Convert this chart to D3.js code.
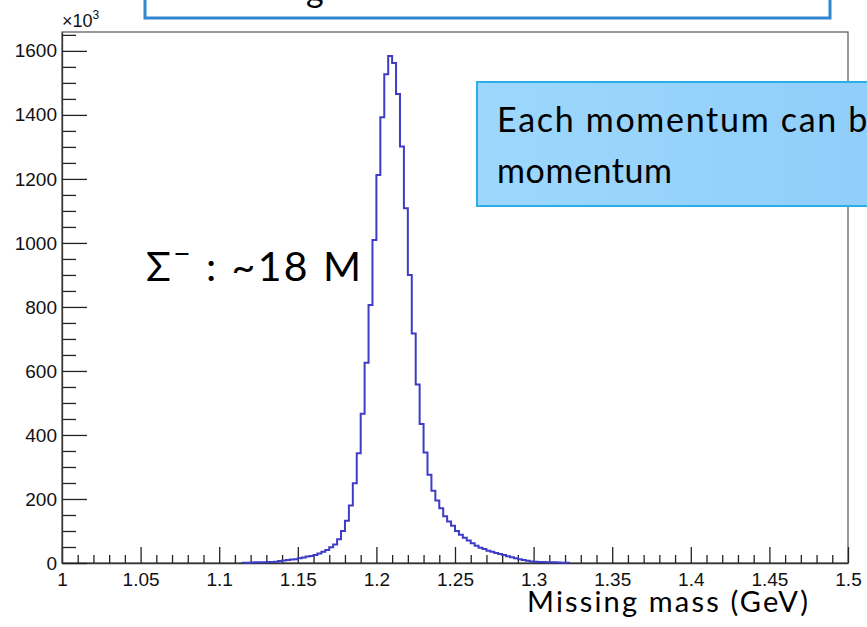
<!DOCTYPE html>
<html>
<head>
<meta charset="utf-8">
<script src="https://cdn.jsdelivr.net/npm/d3@7"></script>
<style>
  body { margin: 0; background: #fff; }
  svg { display: block; }
</style>
</head>
<body>
<div id="chart"></div>
<script>
// histogram definition (200 bins from 1 to 1.5 GeV), only the filled bins are listed
var xMin = 1.0, xMax = 1.5, nBins = 200;
var firstBin = 46;
// counts per bin, in units of 10^3
var counts = [
  1, 1, 1.5, 2, 2, 2.5, 3, 3.5, 4, 6,
  8, 9, 11, 12, 15, 17, 20, 22, 25, 30,
  35, 41, 49, 58, 74, 100, 132, 180, 249, 343,
  466, 626, 806, 1009, 1212, 1393, 1527, 1584, 1562, 1465,
  1301, 1108, 900, 717, 558, 434, 345, 276, 226, 195,
  171, 146, 130, 116, 100, 88, 79, 70, 62, 54,
  48, 44, 38, 35, 31, 28, 25, 21, 18, 15,
  12, 9, 7, 5, 4, 3.5, 3, 2.5, 2, 2,
  1.5, 1, 1
];
var xMajor = [1, 1.05, 1.1, 1.15, 1.2, 1.25, 1.3, 1.35, 1.4, 1.45, 1.5];
var xMajorLabels = ["1", "1.05", "1.1", "1.15", "1.2", "1.25", "1.3", "1.35", "1.4", "1.45", "1.5"];
var yMajor = [0, 200, 400, 600, 800, 1000, 1200, 1400, 1600];
var yMax = 1659;

var W = 867, H = 627;
var frame = {left: 62, right: 848, top: 32, bottom: 563};

var svg = d3.select("#chart").append("svg")
    .attr("width", W)
    .attr("height", H);

var x = d3.scaleLinear().domain([xMin, xMax]).range([frame.left, frame.right]);
var y = d3.scaleLinear().domain([0, yMax]).range([frame.bottom, frame.top]);
var binW = (xMax - xMin) / nBins;

// top (cut off) slide box
svg.append("rect")
    .attr("x", 145).attr("y", -6)
    .attr("width", 685).attr("height", 24)
    .attr("fill", "#fff")
    .attr("stroke", "#3286cf")
    .attr("stroke-width", 3);
svg.append("text")
    .attr("x", 306).attr("y", 2)
    .attr("font-family", "Lato, sans-serif")
    .attr("font-size", 34)
    .text("g");

// frame
svg.append("rect")
    .attr("x", frame.left).attr("y", frame.top)
    .attr("width", frame.right - frame.left)
    .attr("height", frame.bottom - frame.top)
    .attr("fill", "none")
    .attr("stroke", "#555")
    .attr("stroke-width", 1.2);

// minor ticks
var xMinor = d3.range(0, 51).map(function (i) { return xMin + i * 0.01; })
    .filter(function (v) { return Math.abs(v * 20 - Math.round(v * 20)) > 1e-6; });
var yMinor = d3.range(0, 34).map(function (i) { return i * 50; })
    .filter(function (v) { return v % 200 !== 0; });

svg.append("g")
    .attr("transform", "translate(0," + frame.bottom + ")")
    .call(d3.axisBottom(x).tickValues(xMinor).tickSize(-8).tickSizeOuter(0).tickFormat(""))
    .call(function (g) { g.select(".domain").remove(); });

svg.append("g")
    .attr("transform", "translate(" + frame.left + ",0)")
    .call(d3.axisLeft(y).tickValues(yMinor).tickSize(-14).tickSizeOuter(0).tickFormat(""))
    .call(function (g) { g.select(".domain").remove(); });

// major ticks + labels
var xAxis = svg.append("g")
    .attr("transform", "translate(0," + frame.bottom + ")")
    .call(d3.axisBottom(x).tickValues(xMajor).tickSize(-16).tickSizeOuter(0).tickPadding(10)
        .tickFormat(function (d, i) { return xMajorLabels[i]; }));

var yAxis = svg.append("g")
    .attr("transform", "translate(" + frame.left + ",0)")
    .call(d3.axisLeft(y).tickValues(yMajor).tickSize(-25).tickSizeOuter(0).tickPadding(5)
        .tickFormat(d3.format("d")));

svg.selectAll(".tick line").attr("stroke", "#222").attr("stroke-width", 1.3);
svg.selectAll(".domain").attr("stroke", "#333").attr("stroke-width", 1.3);
svg.selectAll(".tick text")
    .attr("fill", "#111")
    .attr("font-family", "Liberation Sans, Arial, sans-serif")
    .attr("font-size", 19);

// exponent label
var ex = svg.append("text")
    .attr("x", frame.left).attr("y", 27)
    .attr("fill", "#111")
    .attr("font-family", "Liberation Sans, Arial, sans-serif")
    .attr("font-size", 18);
ex.append("tspan").text("\u00d710");
ex.append("tspan").attr("dy", -8).attr("font-size", 12).text("3");

// histogram outline
var pts = [[x(xMin + firstBin * binW), y(0)]];
counts.forEach(function (c, i) {
    var lo = xMin + (firstBin + i) * binW;
    pts.push([x(lo), y(c)]);
    pts.push([x(lo + binW), y(c)]);
});
pts.push([x(xMin + (firstBin + counts.length) * binW), y(0)]);

svg.append("path")
    .attr("d", d3.line()(pts))
    .attr("fill", "none")
    .attr("stroke", "#3c3cc6")
    .attr("stroke-width", 2);

// slide annotations
var sig = svg.append("text")
    .attr("x", 146).attr("y", 281)
    .attr("fill", "#000")
    .attr("font-family", "Lato, sans-serif")
    .attr("font-size", 41)
    .attr("textLength", 215)
    .attr("lengthAdjust", "spacing");
sig.append("tspan").text("\u03a3");
sig.append("tspan").attr("dy", -17).attr("font-size", 30).text("\u2212");
sig.append("tspan").attr("dy", 17).text(" : ~18 M");

var grad = svg.append("defs").append("linearGradient")
    .attr("id", "boxfill").attr("x1", 0).attr("x2", 1).attr("y1", 0).attr("y2", 0);
grad.append("stop").attr("offset", "0%").attr("stop-color", "#9dd7fc");
grad.append("stop").attr("offset", "100%").attr("stop-color", "#8fcefa");

svg.append("rect")
    .attr("x", 477).attr("y", 82)
    .attr("width", 420).attr("height", 124)
    .attr("fill", "url(#boxfill)")
    .attr("stroke", "#2aaee6")
    .attr("stroke-width", 2);

svg.append("text")
    .attr("x", 497).attr("y", 132)
    .attr("fill", "#000")
    .attr("font-family", "Lato, sans-serif")
    .attr("font-size", 34)
    .attr("textLength", 390)
    .attr("lengthAdjust", "spacing")
    .text("Each momentum can be");
svg.append("text")
    .attr("x", 497).attr("y", 183)
    .attr("fill", "#000")
    .attr("font-family", "Lato, sans-serif")
    .attr("font-size", 34)
    .attr("textLength", 175)
    .attr("lengthAdjust", "spacing")
    .text("momentum");

svg.append("text")
    .attr("x", 527).attr("y", 612)
    .attr("fill", "#000")
    .attr("font-family", "Lato, sans-serif")
    .attr("font-size", 29)
    .attr("textLength", 281)
    .attr("lengthAdjust", "spacing")
    .text("Missing mass (GeV)");
</script>
</body>
</html>
